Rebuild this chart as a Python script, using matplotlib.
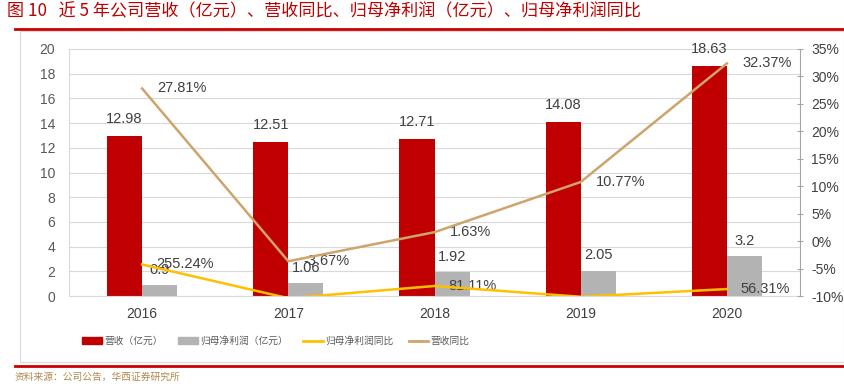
import matplotlib
matplotlib.use('Agg')
import matplotlib.pyplot as plt
from matplotlib.patches import Patch, Rectangle
from matplotlib.lines import Line2D
import numpy as np

plt.rcParams['font.family'] = ['Liberation Sans', 'Noto Sans CJK SC', 'DejaVu Sans']

years = ['2016', '2017', '2018', '2019', '2020']
revenue = [12.98, 12.51, 12.71, 14.08, 18.63]          # 营收（亿元）
net_profit = [0.9, 1.06, 1.92, 2.05, 3.2]             # 归母净利润（亿元）
profit_yoy = [255.24, -18.11, 81.11, -6.53, 56.31]    # 归母净利润同比 (%)
revenue_yoy = [27.81, -3.67, 1.63, 10.77, 32.37]      # 营收同比 (%)

RED = '#C00000'
GRAY = '#B3B3B3'
YELLOW = '#FFC000'
TAN = '#CDA46A'
TXT = '#404040'
CJK = ['Noto Sans CJK SC', 'DejaVu Sans']

W, H = 845, 388
fig = plt.figure(figsize=(W / 100, H / 100), dpi=100)

def px(x0, y0, x1, y1):
    # pixel box (top-left origin) -> figure fraction
    return [x0 / W, 1 - y1 / H, (x1 - x0) / W, (y1 - y0) / H]

# frame decorations
fig.patches.append(Rectangle((20 / W, 1 - 362 / H), (W - 21) / W, (362 - 31) / H,
                             transform=fig.transFigure, fill=False,
                             edgecolor='#D9D9D9', linewidth=0.8))
fig.add_artist(Line2D([15 / W, 1], [1 - 29 / H] * 2, color='#CC0000', linewidth=2))
fig.add_artist(Line2D([15 / W, 1], [1 - 366 / H] * 2, color='#CC0000', linewidth=2))
fig.text(7 / W, 1 - 11 / H, '图 10   近 5 年公司营收（亿元）、营收同比、归母净利润（亿元）、归母净利润同比',
         color='#C00000', fontsize=12.3, va='center', ha='left', family=CJK)
fig.text(15 / W, 1 - 377 / H, '资料来源：公司公告，华西证券研究所', color='#B08850',
         fontsize=7, va='center', ha='left', family=CJK)

ax = fig.add_axes(px(69, 49, 800, 296))
ax2 = ax.twinx()

x = np.arange(len(years))
bw = 0.24
ax.bar(x - bw / 2, revenue, bw, color=RED, zorder=2)
ax.bar(x + bw / 2, net_profit, bw, color=GRAY, zorder=2)
ax.plot(x, np.array(profit_yoy) / 100, color=YELLOW, linewidth=1.8, zorder=4)
ax2.plot(x, revenue_yoy, color=TAN, linewidth=1.8, zorder=4)

ax.set_xlim(-0.5, len(years) - 0.5)
ax.set_ylim(0, 20)
ax.set_yticks(range(0, 21, 2))
ax2.set_ylim(-10, 35)
ax2.set_yticks(range(-10, 36, 5))
ax2.set_yticklabels(['%d%%' % v for v in range(-10, 36, 5)])

ax.set_xticks(x)
ax.set_xticklabels(years)
ax.grid(axis='y', color='#D9D9D9', linewidth=0.8, zorder=0)
ax.set_axisbelow(True)

for a in (ax, ax2):
    a.spines['top'].set_visible(False)
ax.spines['right'].set_visible(False)
ax.spines['left'].set_color('#D9D9D9')
ax.spines['bottom'].set_color('#D9D9D9')
ax2.spines['left'].set_visible(False)
ax2.spines['bottom'].set_visible(False)
ax2.spines['right'].set_color('#A6A6A6')

ax.tick_params(axis='y', length=0, labelsize=10, labelcolor='#595959', pad=10)
ax.tick_params(axis='x', length=0, labelsize=10, labelcolor='#404040', pad=8)
ax2.tick_params(axis='y', length=4, color='#A6A6A6', direction='inout',
                labelsize=10, labelcolor='#404040', pad=6)

for xi, v in zip(x, revenue):
    ax.annotate('%g' % v, (xi - bw / 2, v), xytext=(0, 7), textcoords='offset points',
                ha='center', va='bottom', fontsize=10.5, color=TXT, zorder=3)
for xi, v in zip(x, net_profit):
    ax.annotate('%g' % v, (xi + bw / 2, v), xytext=(0, 6), textcoords='offset points',
                ha='center', va='bottom', fontsize=10.5, color=TXT, zorder=3)
for xi, v in zip(x, profit_yoy):
    ax.annotate('%.2f%%' % v, (xi, v / 100), xytext=(10, 0), textcoords='offset points',
                ha='left', va='center', fontsize=10.5, color=TXT, zorder=3)
for xi, v in zip(x, revenue_yoy):
    ax2.annotate('%.2f%%' % v, (xi, v), xytext=(11, 0), textcoords='offset points',
                 ha='left', va='center', fontsize=10.5, color=TXT, zorder=3)

handles = [Patch(color=RED), Patch(color=GRAY),
           Line2D([], [], color=YELLOW, linewidth=2), Line2D([], [], color=TAN, linewidth=2)]
labels = ['营收（亿元）', '归母净利润（亿元）', '归母净利润同比', '营收同比']
fig.legend(handles, labels, loc='center', bbox_to_anchor=(276 / W, 1 - 341 / H), ncol=4,
           frameon=False, handlelength=2.0, handleheight=0.75,
           handletextpad=0.25, columnspacing=1.6, labelcolor='#595959',
           prop={'family': CJK, 'size': 7})

fig.savefig('out.png', dpi=100)
